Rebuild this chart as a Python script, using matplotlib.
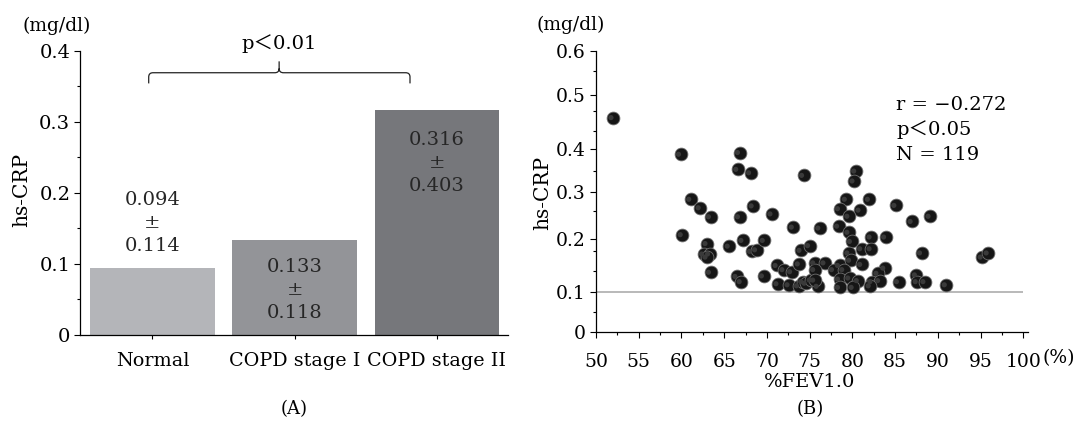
import numpy as np
import matplotlib
matplotlib.use("Agg")
import matplotlib.pyplot as plt
from matplotlib.path import Path
from matplotlib.patches import PathPatch

# ---------------- data ----------------
categories = ["Normal", "COPD stage I", "COPD stage II"]
crp_mean = [0.094, 0.133, 0.316]
crp_sd = [0.114, 0.118, 0.403]
bar_colors = ["#b4b5b9", "#939498", "#76777b"]

bar_yticks = [0, 0.1, 0.2, 0.3, 0.4]
bar_yticklabels = ["0", "0.1", "0.2", "0.3", "0.4"]

fev = [52.0, 59.9, 60.1, 61.1, 62.2, 63.4, 63.0, 62.6, 63.3, 63.0, 63.4,
       66.8, 66.6, 68.1, 68.4, 66.8, 65.6, 67.2, 68.2, 68.8, 69.7, 70.6,
       66.5, 67.0, 69.6, 74.3, 73.1, 76.2, 74.0, 75.0, 71.2, 72.0, 72.9,
       73.8, 75.6, 71.3, 72.6, 73.7, 74.2, 74.6, 75.2, 76.0,
       80.4, 80.2, 79.3, 78.5, 80.9, 82.0, 79.6, 85.1, 87.0, 89.1, 78.4,
       79.6, 79.9, 82.2, 83.9, 81.1, 82.2, 79.6, 88.1, 95.2, 95.9, 76.8,
       78.5, 79.8, 81.1, 75.6, 77.8, 79.0, 83.8, 83.0, 75.6, 78.5, 79.7,
       80.7, 82.3, 83.2, 85.4, 87.5, 87.6, 88.5, 91.0, 78.5, 80.1, 82.1]
hscrp = [0.458, 0.388, 0.210, 0.285, 0.267, 0.248, 0.192, 0.172, 0.172, 0.166, 0.137,
         0.392, 0.353, 0.345, 0.271, 0.248, 0.187, 0.198, 0.177, 0.180, 0.198, 0.254,
         0.129, 0.119, 0.130, 0.339, 0.226, 0.224, 0.179, 0.188, 0.150, 0.142, 0.138,
         0.153, 0.155, 0.115, 0.113, 0.111, 0.119, 0.116, 0.122, 0.110,
         0.349, 0.326, 0.285, 0.265, 0.262, 0.285, 0.249, 0.272, 0.238, 0.249, 0.228,
         0.215, 0.196, 0.205, 0.205, 0.182, 0.182, 0.174, 0.174, 0.166, 0.174, 0.155,
         0.150, 0.160, 0.152, 0.142, 0.142, 0.142, 0.145, 0.135, 0.122, 0.124, 0.126,
         0.121, 0.119, 0.121, 0.119, 0.132, 0.119, 0.119, 0.113, 0.108, 0.108, 0.111]

scatter_yticks = [0, 0.1, 0.2, 0.3, 0.4, 0.5, 0.6]
scatter_yticklabels = ["0", "0.1", "0.2", "0.3", "0.4", "0.5", "0.6"]
scatter_xticks = [50, 55, 60, 65, 70, 75, 80, 85, 90, 95, 100]
reference_level = 0.1
stats_lines = ["r = −0.272", "p＜0.05", "N = 119"]
pvalue_text = "p＜0.01"

# The printed y axis of panel (B) is not evenly spaced; positions of the
# labels in units of the (evenly spaced) minor-tick grid.
label_grid_pos = [0, 2.0, 4.6, 6.95, 9.1, 11.8, 14.0]

# ---------------- style ----------------
FAM = ["DejaVu Serif", "Noto Sans CJK JP"]
plt.rcParams["font.family"] = FAM
plt.rcParams["font.size"] = 13.5
plt.rcParams["axes.linewidth"] = 0.9

W, H = 1079, 425
fig = plt.figure(figsize=(W / 100, H / 100), dpi=100)


def rect(l, t, r, b):
    return [l / W, 1 - b / H, (r - l) / W, (b - t) / H]


# ---------------- panel A ----------------
ax1 = fig.add_axes(rect(80, 50.7, 508, 335))
xpos = np.arange(len(categories))
ax1.bar(xpos, crp_mean, width=0.876, color=bar_colors, zorder=2)
ax1.set_xlim(-0.509, 2.5)
ax1.set_ylim(0, 0.4)
for s in ["top", "right"]:
    ax1.spines[s].set_visible(False)
ax1.set_xticks(xpos)
ax1.set_xticklabels(categories, fontsize=13.8)
ax1.set_yticks(bar_yticks)
ax1.set_yticklabels(bar_yticklabels, fontsize=14)
ax1.set_yticks(np.arange(0.05, 0.4, 0.1), minor=True)
ax1.tick_params(axis="y", which="major", length=4.5, width=0.8, pad=2.5)
ax1.tick_params(axis="y", which="minor", length=2.2, width=0.8)
ax1.tick_params(axis="x", which="major", length=3, width=0.8, pad=9)

text_centers = [0.1575, 0.0635, 0.2418]
for i, (m, sd) in enumerate(zip(crp_mean, crp_sd)):
    ax1.text(xpos[i], text_centers[i], f"{m:.3f}\n±\n{sd:.3f}", ha="center",
             va="center", fontsize=14, linespacing=1.38, color="#262626",
             zorder=3)

# bracket
xl, xm, xr = -0.026, 0.891, 1.811
yb, yh, yt = 0.354, 0.369, 0.385
dx, dy = 0.03, 0.006
verts = [(xl, yb), (xl, yh - dy), (xl, yh), (xl + dx, yh),
         (xm - dx, yh), (xm, yh), (xm, yh + dy), (xm, yt),
         (xm, yh + dy), (xm, yh), (xm + dx, yh),
         (xr - dx, yh), (xr, yh), (xr, yh - dy), (xr, yb)]
codes = [Path.MOVETO, Path.LINETO, Path.CURVE3, Path.CURVE3,
         Path.LINETO, Path.CURVE3, Path.CURVE3, Path.LINETO,
         Path.MOVETO, Path.CURVE3, Path.CURVE3,
         Path.LINETO, Path.CURVE3, Path.CURVE3, Path.LINETO]
ax1.add_patch(PathPatch(Path(verts, codes), fill=False, lw=0.9,
                        edgecolor="#222222", clip_on=False))
ax1.text(0.891, 0.41, pvalue_text, ha="center", va="center", fontsize=14,
         family=FAM, clip_on=False)

fig.text(56.8 / W, 1 - 26 / H, "(mg/dl)", ha="center", va="center", fontsize=13.5)
fig.text(22 / W, 1 - 190 / H, "hs-CRP", ha="center", va="center",
         rotation=90, fontsize=14.5)
fig.text(294 / W, 1 - 409 / H, "(A)", ha="center", va="center", fontsize=13)

# ---------------- panel B ----------------
def fwd(v):
    return np.interp(v, scatter_yticks, label_grid_pos)


def inv(u):
    return np.interp(u, label_grid_pos, scatter_yticks)


ax2 = fig.add_axes(rect(596, 50.7, 1028, 331.7))
ax2.set_yscale("function", functions=(fwd, inv))
ax2.set_xlim(50, 100.55)
ax2.set_ylim(0, 0.6)
for s in ["top", "right"]:
    ax2.spines[s].set_visible(False)

ax2.hlines(reference_level, 50, 100, color="#a5a5a5", lw=1.1, zorder=1)
ax2.scatter(fev, hscrp, s=85, color="#161616", edgecolors="#707070",
            linewidths=0.6, zorder=3)
ax2.scatter(np.array(fev) - 0.25, np.array(hscrp), s=14, color="#3a3a3a",
            edgecolors="none", zorder=4)

ax2.set_xticks(scatter_xticks)
ax2.set_xticklabels([str(v) for v in scatter_xticks], fontsize=13.5)
ax2.set_xticks(np.arange(52.5, 100, 5), minor=True)
ax2.tick_params(axis="x", which="major", length=4, width=0.8, pad=11)
ax2.tick_params(axis="x", which="minor", length=2.2, width=0.8)

ax2.set_yticks(scatter_yticks)
ax2.set_yticklabels(scatter_yticklabels, fontsize=13.5)
major_u = np.array(label_grid_pos)
minor_u = [u for u in range(15) if np.min(np.abs(major_u - u)) > 0.45]
ax2.set_yticks(inv(np.array(minor_u, dtype=float)), minor=True)
ax2.yaxis.set_minor_formatter(plt.NullFormatter())
ax2.tick_params(axis="y", which="major", length=4.5, width=0.8, pad=3)
ax2.tick_params(axis="y", which="minor", length=2.4, width=0.8)

for k, line in enumerate(stats_lines):
    fig.text(896 / W, 1 - (105 + 25 * k) / H, line, ha="left", va="center",
             fontsize=14, family=FAM)

fig.text(571 / W, 1 - 25 / H, "(mg/dl)", ha="center", va="center", fontsize=13.5)
fig.text(543 / W, 1 - 193 / H, "hs-CRP", ha="center", va="center",
         rotation=90, fontsize=14.5)
fig.text(1059 / W, 1 - 358 / H, "(%)", ha="center", va="center", fontsize=13.5)
fig.text(810 / W, 1 - 382 / H, "%FEV1.0", ha="center", va="center", fontsize=14)
fig.text(810 / W, 1 - 409 / H, "(B)", ha="center", va="center", fontsize=13)

fig.savefig("out.png", dpi=100)
